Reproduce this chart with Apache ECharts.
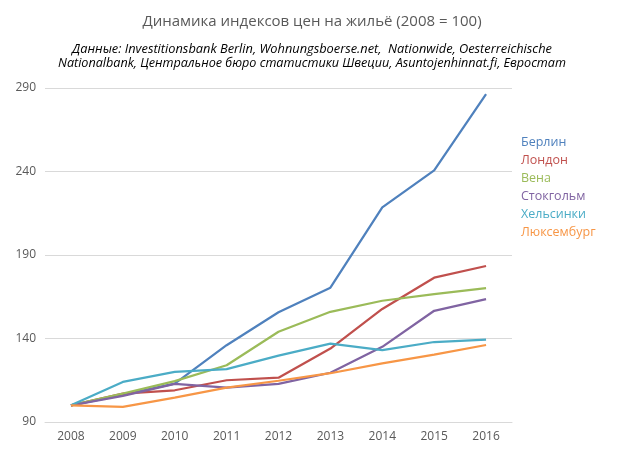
<!DOCTYPE html>
<html><head><meta charset="utf-8">
<script src="https://cdn.jsdelivr.net/npm/echarts@6/dist/echarts.min.js"></script>
<style>html,body{margin:0;padding:0;background:#fff}#c{width:624px;height:453px}</style>
</head><body><div id="c"></div>
<script>
const years = ['2008','2009','2010','2011','2012','2013','2014','2015','2016'];
const berlin = [100,106.2,113,136,155.7,170.4,218.5,240.7,286.4];
const london = [100,107,109,115,116.5,134,157.7,176.4,183.4];
const vienna = [100,107,114.5,124,144,156,162.6,166.6,170.2];
const stockholm = [100,105.6,112.8,110.6,112.8,119.5,135,156.6,163.6];
const helsinki = [100,114,120,121.7,129.7,136.9,133.1,137.9,139.3];
const luxembourg = [100,99,104.6,110.6,114.7,119.2,125.1,130.3,136.1];
const names = ['Берлин','Лондон','Вена','Стокгольм','Хельсинки','Люксембург'];
const colors = ['#4F81BD','#C0504D','#9BBB59','#8064A2','#4BACC6','#F79646'];
const values = [berlin,london,vienna,stockholm,helsinki,luxembourg];
const yTicks = [90,140,190,240,290];

const chart = echarts.init(document.getElementById('c'));
chart.setOption({
  animation:false,
  color: colors,
  title:[
    {text:'Динамика индексов цен на жильё (2008 = 100)', left:'center', top:9,
     textStyle:{fontFamily:"'Open Sans',sans-serif", fontWeight:'normal', fontSize:15, color:'#595959'}},
    {text:'Данные: Investitionsbank Berlin, Wohnungsboerse.net,  Nationwide, Oesterreichische',
     left:'center', top:37,
     textStyle:{fontFamily:"'Open Sans',sans-serif", fontStyle:'italic', fontWeight:'normal', fontSize:12.8, color:'#000', lineHeight:15}},
    {text:'Nationalbank, Центральное бюро статистики Швеции, Asuntojenhinnat.fi, Евростат',
     left:'center', top:51,
     textStyle:{fontFamily:"'Open Sans',sans-serif", fontStyle:'italic', fontWeight:'normal', fontSize:12.6, color:'#000', lineHeight:15}}
  ],
  legend:{
    orient:'vertical', left:516, top:131, itemGap:5, itemWidth:0, itemHeight:13,
    icon:'rect',
    data: names.map((n,i)=>({name:n, textStyle:{color:colors[i]}})),
    textStyle:{fontFamily:"'Open Sans',sans-serif", fontSize:12.5, padding:[0,0,0,-5]}
  },
  grid:{left:45, right:112, top:88, bottom:31},
  xAxis:{type:'category', data:years, boundaryGap:true,
    axisLine:{lineStyle:{color:'#D9D9D9'}}, axisTick:{show:false},
    axisLabel:{color:'#595959', fontFamily:"'Open Sans',sans-serif", fontSize:12, margin:9}},
  yAxis:{type:'value', min:yTicks[0], max:yTicks[yTicks.length-1], interval:50,
    axisLine:{show:false}, axisTick:{show:false},
    splitLine:{lineStyle:{color:'#D9D9D9'}},
    axisLabel:{color:'#595959', fontFamily:"'Open Sans',sans-serif", fontSize:12, margin:9}},
  series: names.map((n,i)=>({name:n, type:'line', data:values[i], symbol:'none',
    lineStyle:{width:2.25, color:colors[i]}, itemStyle:{color:colors[i]}}))
});
</script></body></html>
